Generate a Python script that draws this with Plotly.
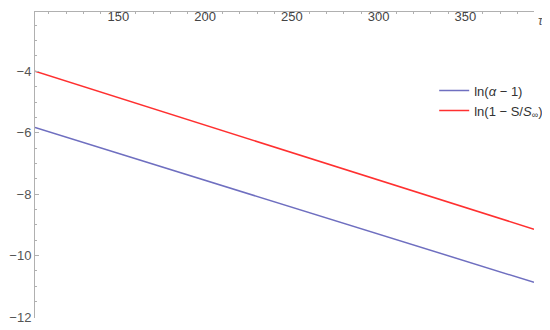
import plotly.graph_objects as go

tau = [102, 389.5]
ln_alpha_minus_1 = [-5.83, -10.87]
ln_one_minus_S = [-4.0, -9.14]

series_names = ["ln(<i>α</i> − 1)", "ln(1 − S/<i>S</i><sub>∞</sub>)"]
series_colors = ["#6f6fc0", "#ff3030"]

fig = go.Figure()
for name, vals, col in zip(series_names, [ln_alpha_minus_1, ln_one_minus_S], series_colors):
    fig.add_trace(go.Scatter(x=tau, y=vals, mode="lines", name=name,
                             line=dict(color=col, width=1.5)))

axis_gray = "#b0b0b0"
# the page body keeps its default 8px margin, so the figure is sized to fit the window
fig.update_layout(
    width=542, height=322,
    margin=dict(l=25, r=16, t=1, b=12),
    paper_bgcolor="white", plot_bgcolor="white",
    font=dict(family="Liberation Sans, Arial, sans-serif", size=13, color="#555555"),
    showlegend=True,
    legend=dict(x=0.80, y=0.792, xanchor="left", yanchor="top",
                bgcolor="rgba(0,0,0,0)", itemwidth=30, tracegroupgap=0,
                font=dict(size=13, color="#333333")),
    xaxis=dict(range=[102, 389.5], side="top", showgrid=False, zeroline=False,
               showline=True, linecolor=axis_gray, linewidth=1,
               ticks="inside", ticklen=3, tickcolor=axis_gray,
               tickvals=[150, 200, 250, 300, 350], ticklabelposition="inside",
               ticklabelstandoff=-3,
               minor=dict(ticks="inside", ticklen=2, tickcolor=axis_gray, dtick=10, tick0=100)),
    yaxis=dict(range=[-12.03, -2.07], showgrid=False, zeroline=False,
               showline=True, linecolor=axis_gray, linewidth=1,
               ticks="inside", ticklen=4, tickcolor=axis_gray,
               tickvals=[-4, -6, -8, -10, -12], ticktext=["−4", "−6", "−8", "−10", "−12"],
               minor=dict(ticks="inside", ticklen=2, tickcolor=axis_gray, dtick=0.5, tick0=-12)),
    annotations=[dict(text="<i>τ</i>", xref="paper", yref="paper", x=1.0, y=1.0,
                      xanchor="left", yanchor="top", xshift=2, yshift=1, showarrow=False,
                      font=dict(size=13, color="#555555"))],
)
fig.write_html("out.html", config={"displayModeBar": False})
